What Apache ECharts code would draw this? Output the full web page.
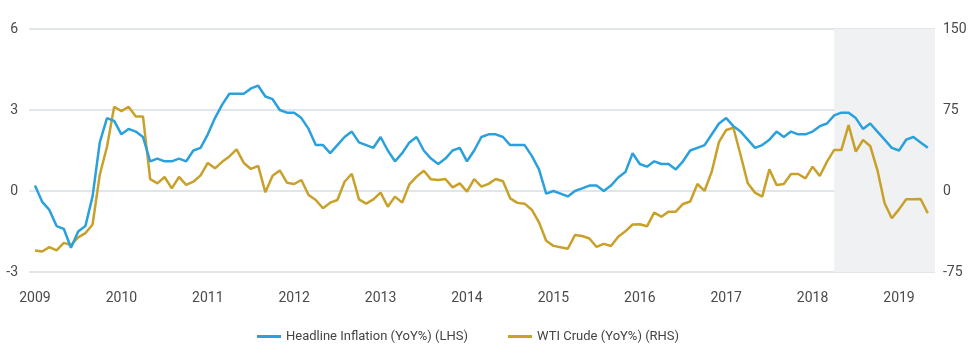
<!DOCTYPE html>
<html lang="en">
<head>
    <meta charset="UTF-8">
    <title>Headline Inflation vs WTI Crude</title>
    <script src="https://cdn.jsdelivr.net/npm/echarts@6/dist/echarts.min.js"></script>
    <style>
        html, body { margin: 0; padding: 0; background: #fff; }
        #main { width: 970px; height: 354px; }
    </style>
</head>
<body>
    <div id="main"></div>
    <script>
        // monthly, Feb 2009 .. Jun 2019 (index 0 = Feb 2009)
        var yearLabels = ['2009', '2010', '2011', '2012', '2013', '2014', '2015', '2016', '2017', '2018', '2019'];
        var yearIndex = [0, 12, 24, 36, 48, 60, 72, 84, 96, 108, 120];

        var inflation = [
            0.2, -0.4, -0.7, -1.3, -1.4, -2.1, -1.5, -1.3, -0.2, 1.8, 2.7,
            2.6, 2.1, 2.3, 2.2, 2.0, 1.1, 1.2, 1.1, 1.1, 1.2, 1.1, 1.5,
            1.6, 2.1, 2.7, 3.2, 3.6, 3.6, 3.6, 3.8, 3.9, 3.5, 3.4, 3.0,
            2.9, 2.9, 2.7, 2.3, 1.7, 1.7, 1.4, 1.7, 2.0, 2.2, 1.8, 1.7,
            1.6, 2.0, 1.5, 1.1, 1.4, 1.8, 2.0, 1.5, 1.2, 1.0, 1.2, 1.5,
            1.6, 1.1, 1.5, 2.0, 2.1, 2.1, 2.0, 1.7, 1.7, 1.7, 1.3, 0.8,
            -0.1, 0.0, -0.1, -0.2, 0.0, 0.1, 0.2, 0.2, 0.0, 0.2, 0.5, 0.7,
            1.4, 1.0, 0.9, 1.1, 1.0, 1.0, 0.8, 1.1, 1.5, 1.6, 1.7, 2.1,
            2.5, 2.7, 2.4, 2.2, 1.9, 1.6, 1.7, 1.9, 2.2, 2.0, 2.2, 2.1,
            2.1, 2.2, 2.4, 2.5, 2.8, 2.9, 2.9, 2.7, 2.3, 2.5, 2.2, 1.9,
            1.6, 1.5, 1.9, 2.0, 1.8, 1.6
        ];

        var wti = [
            -55, -56, -52, -55, -48, -50, -43, -39, -31, 15, 41,
            78, 74, 78, 69, 69, 11, 7, 13, 2.5, 13, 5.6, 8.6,
            14.5, 26, 21, 27, 32, 38.6, 26, 20.4, 23.2, -1.2, 14.2, 19,
            7.7, 6.5, 10.2, -3.7, -8.3, -16, -10.8, -8.3, 8.6, 16, -7.7, -11.7,
            -7.7, -1.5, -14.5, -5.2, -10.8, 6.2, 13.3, 18.8, 10.8, 10.2, 11.1, 3.4,
            7.1, -0.6, 11.1, 4, 6.6, 11.1, 9, -6.8, -11, -11.7, -17.3, -29,
            -46, -50.8, -52, -53.5, -40.7, -41.7, -44, -51.8, -49, -50.9, -42.3, -37.3,
            -31, -30.8, -32.7, -20, -23.8, -19.1, -19.1, -12, -9.7, 6.5, 0.2, 18,
            45.5, 56.5, 58.6, 33.3, 7.1, -1.5, -5.2, 20, 5.6, 6.5, 15.7, 15.7,
            11.7, 22.5, 13.9, 27.2, 38, 38, 61, 36.4, 47.2, 41.7, 19.4, -11.4,
            -25.3, -17, -7.7, -7.7, -7.4, -20.6
        ];

        var shadeFrom = 111; // May 2018

        var labelFont = 'Roboto, "Liberation Sans", sans-serif';

        var chart = echarts.init(document.getElementById('main'));

        var option = {
            animation: false,
            grid: { left: 29, right: 35, top: 29, bottom: 82 },
            legend: {
                left: 252,
                top: 325,
                itemWidth: 24,
                itemHeight: 3,
                itemGap: 40,
                icon: 'rect',
                selectedMode: false,
                textStyle: { color: '#444', fontSize: 13, fontFamily: labelFont },
                data: ['Headline Inflation (YoY%) (LHS)', 'WTI Crude (YoY%) (RHS)']
            },
            xAxis: {
                type: 'value',
                min: -0.83,
                max: 125,
                axisLine: { show: false },
                axisTick: { show: false },
                splitLine: { show: false },
                axisLabel: {
                    customValues: yearIndex,
                    formatter: function (v) { return yearLabels[Math.round(v / 12)]; },
                    margin: 19,
                    color: '#4a4a4a',
                    fontSize: 14,
                    fontFamily: labelFont
                }
            },
            yAxis: [
                {
                    type: 'value',
                    min: -3, max: 6, interval: 3,
                    axisLine: { show: false },
                    axisTick: { show: false },
                    splitLine: { lineStyle: { color: '#e1e6ea', width: 2 } },
                    axisLabel: { margin: 11, color: '#4a4a4a', fontSize: 14, fontFamily: labelFont }
                },
                {
                    type: 'value',
                    min: -75, max: 150, interval: 75,
                    axisLine: { show: false },
                    axisTick: { show: false },
                    splitLine: { show: false },
                    axisLabel: { margin: 8, color: '#4a4a4a', fontSize: 14, fontFamily: labelFont }
                }
            ],
            series: [
                {
                    name: 'Headline Inflation (YoY%) (LHS)',
                    type: 'line',
                    yAxisIndex: 0,
                    symbol: 'none',
                    color: '#2aa1dc',
                    lineStyle: { width: 2.5 },
                    data: inflation.map(function (v, i) { return [i, v]; }),
                    z: 3,
                    markArea: {
                        silent: true,
                        itemStyle: { color: '#f0f1f3' },
                        data: [[{ xAxis: shadeFrom }, { xAxis: 125 }]]
                    }
                },
                {
                    name: 'WTI Crude (YoY%) (RHS)',
                    type: 'line',
                    yAxisIndex: 1,
                    symbol: 'none',
                    color: '#c9a12a',
                    lineStyle: { width: 2.5 },
                    data: wti.map(function (v, i) { return [i, v]; }),
                    z: 2
                }
            ]
        };

        chart.setOption(option);
    </script>
</body>
</html>
